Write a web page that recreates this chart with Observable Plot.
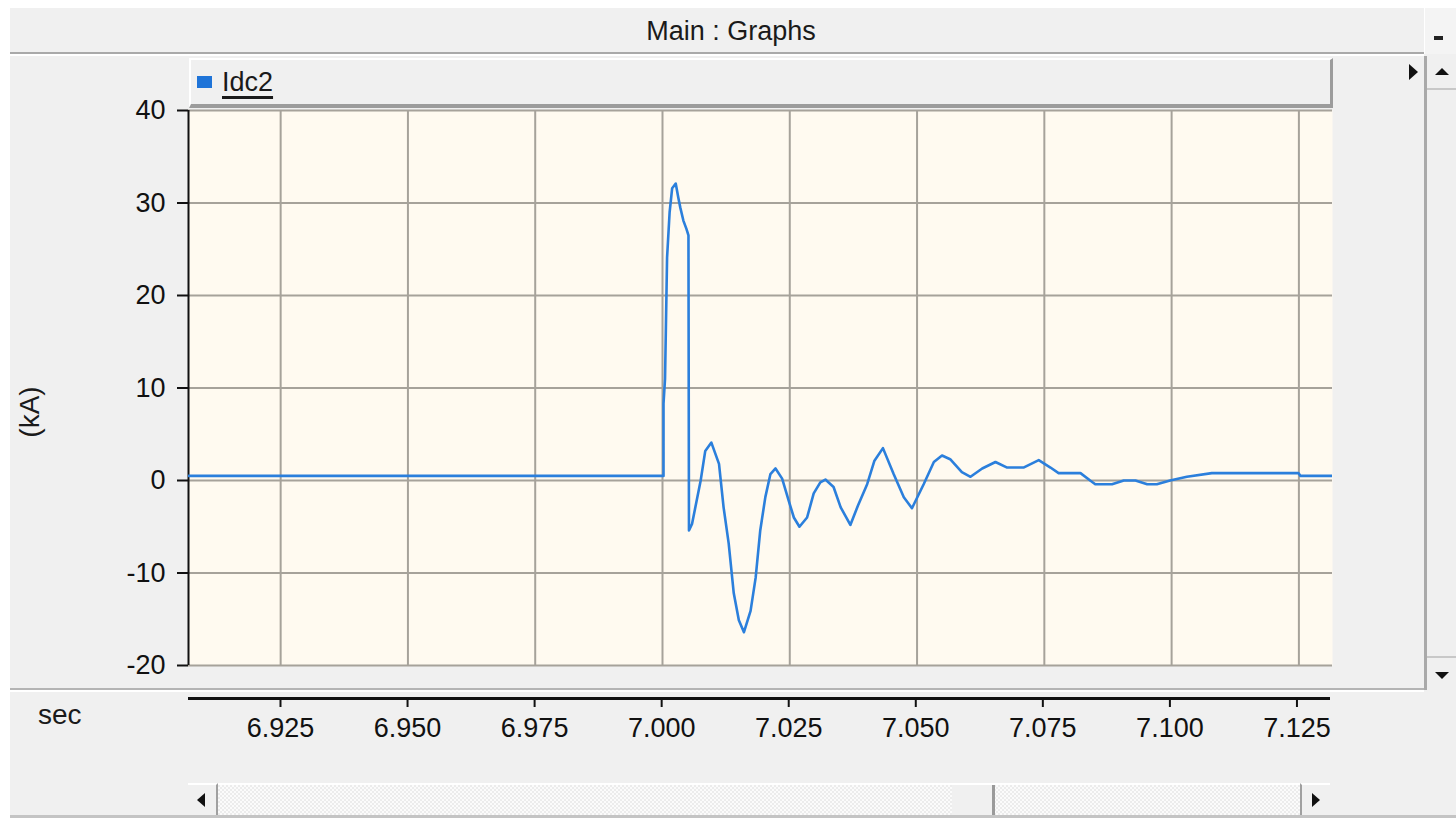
<!DOCTYPE html>
<html>
<head>
<meta charset="utf-8">
<script src="https://cdn.jsdelivr.net/npm/d3@7"></script>
<script src="https://cdn.jsdelivr.net/npm/@observablehq/plot@0.6"></script>
<style>
  html, body { margin: 0; padding: 0; background: #ffffff; }
  #win { position: absolute; left: 0; top: 0; width: 1456px; height: 818px; overflow: hidden;
         background: #ffffff; font-family: "Liberation Sans", Arial, sans-serif; color: #111; }
  .abs { position: absolute; box-sizing: border-box; }
  #panel { left: 10px; top: 8px; width: 1446px; height: 810px; background: #f0f0f0; }
  #title { left: 10px; top: 8px; width: 1442px; height: 44px; line-height: 46px; text-align: center;
           font-size: 27px; color: #1a1a1a; }
  #titleSep { left: 10px; top: 52px; width: 1414px; height: 4px; border-top: 2px solid #a9a9a9; border-bottom: 2px solid #ffffff; }
  #minBtn { left: 1424px; top: 8px; width: 32px; height: 46px; background: #f4f4f4; border-left: 1px solid #ffffff; }
  #minBtn::after { content: ""; position: absolute; left: 9px; top: 28px; width: 9px; height: 4px; background: #222; }
  #legendBar { left: 189px; top: 58px; width: 1144px; height: 50px; background: #f0f0f0;
               border-top: 2px solid #ffffff; border-left: 2px solid #ffffff;
               border-right: 3px solid #9c9c9c; border-bottom: 4px solid #9c9c9c; }
  #legendSwatch { left: 197px; top: 76px; width: 15px; height: 12px; background: #1f74d8; }
  #legendText { left: 222px; top: 67px; font-size: 27px; line-height: 30px; color: #1a1a1a;
                text-decoration: underline; text-decoration-thickness: 3px; text-underline-offset: 5px; }
  #arrowRight { left: 1409px; top: 64px; width: 0; height: 0; border-top: 8px solid transparent;
                border-bottom: 8px solid transparent; border-left: 9px solid #111; }
  #vscroll { left: 1424px; top: 56px; width: 32px; height: 634px; background: #f0f0f0; border-left: 3px solid #a9a9a9; }
  #vUp { left: 1427px; top: 56px; width: 29px; height: 34px; border-bottom: 2px solid #c8c8c8; }
  #vUp::after { content: ""; position: absolute; left: 8px; top: 12px; border-left: 7px solid transparent;
                border-right: 7px solid transparent; border-bottom: 7px solid #111; }
  #vDown { left: 1427px; top: 656px; width: 29px; height: 34px; border-top: 2px solid #c8c8c8; }
  #vDown::after { content: ""; position: absolute; left: 8px; top: 14px; border-left: 7px solid transparent;
                  border-right: 7px solid transparent; border-top: 7px solid #111; }
  #axisSep { left: 10px; top: 688px; width: 1414px; height: 4px; border-top: 2px solid #b4b4b4; border-bottom: 2px solid #ffffff; }
  #yLabel { left: 30px; top: 412px; font-size: 28px; transform: translate(-50%, -50%) rotate(-90deg); white-space: nowrap; color: #1a1a1a; }
  #secLabel { left: 38px; top: 700px; font-size: 28px; line-height: 30px; color: #1a1a1a; }
  #hscroll { left: 188px; top: 783px; width: 1142px; height: 32px; border-top: 2px solid #ffffff;
             background-color: #f7f7f7;
             background-image: repeating-conic-gradient(#ececec 0% 25%, #fbfbfb 0% 50%);
             background-size: 4px 4px; }
  #hLeft { left: 188px; top: 783px; width: 30px; height: 32px; background: #f0f0f0; border-right: 2px solid #a0a0a0; border-top: 2px solid #fff; }
  #hLeft::after { content: ""; position: absolute; left: 9px; top: 8px; border-top: 7px solid transparent;
                  border-bottom: 7px solid transparent; border-right: 8px solid #111; }
  #hRight { left: 1300px; top: 783px; width: 30px; height: 32px; background: #f0f0f0; border-left: 2px solid #a0a0a0; border-top: 2px solid #fff; }
  #hRight::after { content: ""; position: absolute; left: 10px; top: 8px; border-top: 7px solid transparent;
                   border-bottom: 7px solid transparent; border-left: 8px solid #111; }
  #hThumb { left: 952px; top: 785px; width: 43px; height: 30px; background: #f0f0f0; border-right: 3px solid #9a9a9a; }
  #bottomEdge { left: 10px; top: 815px; width: 1446px; height: 3px; background: #c4c4c4; }
  #mainChart { left: 0px; top: 105px; }
  #axisChart { left: 0px; top: 690px; }
</style>
</head>
<body>
<div id="win">
  <div class="abs" id="panel"></div>
  <div class="abs" id="title">Main : Graphs</div>
  <div class="abs" id="minBtn"></div>
  <div class="abs" id="titleSep"></div>
  <div class="abs" id="vscroll"></div>
  <div class="abs" id="vUp"></div>
  <div class="abs" id="vDown"></div>
  <div class="abs" id="mainChart"></div>
  <div class="abs" id="legendBar"></div>
  <div class="abs" id="legendSwatch"></div>
  <div class="abs" id="legendText">Idc2</div>
  <div class="abs" id="arrowRight"></div>
  <div class="abs" id="yLabel">(kA)</div>
  <div class="abs" id="axisSep"></div>
  <div class="abs" id="axisChart"></div>
  <div class="abs" id="secLabel">sec</div>
  <div class="abs" id="hscroll"></div>
  <div class="abs" id="hThumb"></div>
  <div class="abs" id="hLeft"></div>
  <div class="abs" id="hRight"></div>
  <div class="abs" id="bottomEdge"></div>
</div>
<script>
// Idc2 DC current (kA) against simulation time (s)
const time = [
  6.9069, 7.0002, 7.0002, 7.0005, 7.0009, 7.0014, 7.0019, 7.0026, 7.0031, 7.0035,
  7.0041, 7.0047, 7.0051, 7.0052, 7.0058, 7.0075, 7.0084, 7.0096, 7.0111, 7.0120,
  7.0130, 7.0140, 7.0150, 7.0160, 7.0173, 7.0183, 7.0192, 7.0202, 7.0212, 7.0222,
  7.0235, 7.0248, 7.0258, 7.0269, 7.0284, 7.0297, 7.0310, 7.0320, 7.0336, 7.0350,
  7.0369, 7.0384, 7.0402, 7.0416, 7.0433, 7.0454, 7.0474, 7.0490, 7.0513, 7.0533,
  7.0549, 7.0565, 7.0588, 7.0605, 7.0628, 7.0654, 7.0677, 7.0709, 7.0739, 7.0762,
  7.0778, 7.0821, 7.0840, 7.0850, 7.0883, 7.0906, 7.0929, 7.0952, 7.0971, 7.0997,
  7.1030, 7.1079, 7.1249, 7.1253, 7.1316
];
const idc2 = [
  0.5, 0.5, 8.3, 11.0, 24.1, 29.0, 31.6, 32.1, 30.6, 29.5,
  28.1, 27.2, 26.5, -5.4, -4.7, 0.0, 3.2, 4.1, 1.8, -2.9,
  -6.8, -12.2, -15.1, -16.4, -14.1, -10.5, -5.4, -1.8, 0.7, 1.3,
  0.2, -2.2, -4.0, -5.0, -4.0, -1.4, -0.2, 0.1, -0.7, -2.9,
  -4.8, -2.7, -0.4, 2.1, 3.5, 0.7, -1.8, -3.0, -0.4, 2.0,
  2.7, 2.3, 0.9, 0.4, 1.3, 2.0, 1.4, 1.4, 2.2, 1.4,
  0.8, 0.8, 0.0, -0.4, -0.4, 0.0, 0.0, -0.4, -0.4, 0.0,
  0.4, 0.8, 0.8, 0.5, 0.5
];

// axis ranges and tick values
const timeDomain = [6.9069, 7.1316];
const currentDomain = [-20, 40];
const timeTicks = [6.925, 6.950, 6.975, 7.000, 7.025, 7.050, 7.075, 7.100, 7.125];
const currentTicks = [-20, -10, 0, 10, 20, 30, 40];

const series = time.map((t, i) => ({t, v: idc2[i]}));

const font = '"Liberation Sans", Arial, sans-serif';
const gridStyle = {stroke: "#a6a29a", strokeOpacity: 1, strokeWidth: 2};

const mainChart = Plot.plot({
  width: 1340,
  height: 565,
  marginLeft: 188,
  marginRight: 8,
  marginTop: 5,
  marginBottom: 5,
  style: {background: "transparent", fontFamily: font, fontSize: "27px", color: "#111", overflow: "visible"},
  x: {domain: timeDomain, axis: null},
  y: {domain: currentDomain},
  marks: [
    Plot.frame({fill: "#fffaf0", stroke: null}),
    Plot.gridX(timeTicks, gridStyle),
    Plot.gridY(currentTicks, gridStyle),
    Plot.ruleX([timeDomain[0]], {stroke: "#111", strokeWidth: 2}),
    Plot.axisY(currentTicks, {tickSize: 11, tickPadding: 12, label: null, fontSize: 27, strokeWidth: 2,
                              tickFormat: d => String(d)}),
    Plot.line(series, {x: "t", y: "v", stroke: "#2b7fdc", strokeWidth: 2.6, clip: true})
  ]
});
document.getElementById("mainChart").appendChild(mainChart);

// detached time axis under the plot
const axisChart = Plot.plot({
  width: 1340,
  height: 70,
  marginLeft: 188,
  marginRight: 10,
  marginTop: 0,
  marginBottom: 62,
  style: {background: "transparent", fontFamily: font, fontSize: "27px", color: "#111", overflow: "visible"},
  x: {domain: timeDomain},
  y: {domain: [0, 1], axis: null},
  marks: [
    Plot.ruleY([0], {stroke: "#111", strokeWidth: 3}),
    Plot.axisX(timeTicks, {tickSize: 9, tickPadding: 10, tickFormat: d3.format(".3f"), label: null, fontSize: 27, strokeWidth: 2})
  ]
});
document.getElementById("axisChart").appendChild(axisChart);
</script>
</body>
</html>
